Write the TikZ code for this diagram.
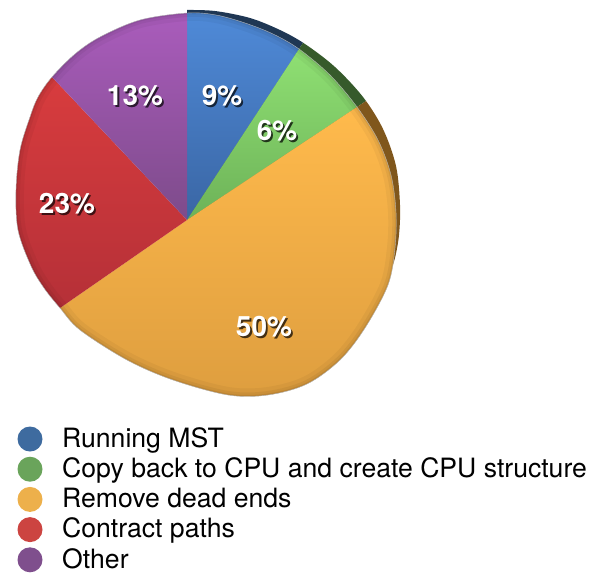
\documentclass[tikz,border=0pt]{standalone}
\usepackage{fontspec}
\setmainfont{TeX Gyre Heros}
% slice colours (top / bottom of the gradient) and the darker rim colours
\definecolor{blueT}{HTML}{4F8AD8}\definecolor{blueB}{HTML}{3A66A4}
\definecolor{greenT}{HTML}{8FE073}\definecolor{greenB}{HTML}{6DB258}
\definecolor{orangeT}{HTML}{FFBA4C}\definecolor{orangeB}{HTML}{DE9E3F}
\definecolor{redT}{HTML}{D83C3E}\definecolor{redB}{HTML}{B22F37}
\definecolor{purpleT}{HTML}{AA5CBC}\definecolor{purpleB}{HTML}{7D4B8A}
\definecolor{rimBlue}{HTML}{1F3754}
\definecolor{rimGreen}{HTML}{365A2B}
\definecolor{rimOrange}{HTML}{80571C}
% legend swatches
\definecolor{legBlue}{HTML}{3E6B9F}
\definecolor{legGreen}{HTML}{6AA45B}
\definecolor{legOrange}{HTML}{EDB04B}
\definecolor{legRed}{HTML}{CC4441}
\definecolor{legPurple}{HTML}{7F4F8D}
% white label with a dark drop shadow behind it
\newcommand{\shadowlabel}[2]{%
  \makebox[0pt][l]{\hspace{1.8pt}\raisebox{-2.2pt}{\color{#1}#2}}#2}
\begin{document}
\begin{tikzpicture}[x=1pt,y=-1pt,
  pct/.style={font=\fontsize{28}{28}\selectfont\bfseries, text=white, inner sep=0pt},
  legdot/.style={circle, minimum size=25pt, inner sep=0pt},
  legtext/.style={anchor=base west, inner sep=0pt, font=\fontsize{26.6}{30}\selectfont, text=black}]
\useasboundingbox (0,0) rectangle (591,573);

% outline of the pie's top face
\def\topsurf{plot[smooth cycle, tension=0.55] coordinates {
  (187,13) (216,15) (245,23) (273,34) (299,49) (330,75) (357,107) (378,140)
  (391,175) (396,212) (395,248) (388,285) (365,328) (340,360) (307,384)
  (268,395) (228,395) (173,380) (127,360) (80,330) (60,308) (44,288)
  (31,266) (18,230) (16,190) (20,150) (30,117) (38,97) (52,77) (75,54)
  (100,37) (140,20)}}
% sectors, all starting at the apex
\def\wblue{(187,220) -- (187,-194) -- (411,-122) -- cycle}
\def\wgreen{(187,220) -- (411,-122) -- (527,-6) -- cycle}
\def\worange{(187,220) -- (527,-6) -- (620,620) -- (-100,620) -- (-67,396) -- cycle}
\def\wred{(187,220) -- (-67,396) -- (-200,220) -- (-83,-66) -- cycle}
\def\wpurple{(187,220) -- (-83,-66) -- (187,-194) -- cycle}

\coordinate (apex) at (187,220);

% visible side wall along the upper right edge
\begin{scope}
  \clip (apex) -- (187,14) -- plot[smooth, tension=0.55] coordinates {
    (187,10) (215,11) (250,18) (280,30) (305,44) (335,67) (363,97)
    (383,129) (396,166) (400,205) (399,235) (395,258) (391,270)} -- cycle;
  \fill[rimBlue] \wblue;
  \fill[rimGreen] \wgreen;
  \fill[rimOrange] \worange;
\end{scope}

% top face of the pie
\begin{scope}
  \clip \topsurf;
  \begin{scope}\clip \wblue;
    \shade[top color=blueT, bottom color=blueB] (0,13) rectangle (591,220);\end{scope}
  \begin{scope}\clip \wgreen;
    \shade[top color=greenT, bottom color=greenB] (0,49) rectangle (591,220);\end{scope}
  \begin{scope}\clip \worange;
    \shade[top color=orangeT, bottom color=orangeB] (0,107) rectangle (591,396);\end{scope}
  \begin{scope}\clip \wred;
    \shade[top color=redT, bottom color=redB] (0,77) rectangle (591,330);\end{scope}
  \begin{scope}\clip \wpurple;
    \shade[top color=purpleT, bottom color=purpleB] (0,13) rectangle (591,220);\end{scope}
  % soft darkening towards the rim
  \draw[black, opacity=.04, line width=16pt] \topsurf;
  \draw[black, opacity=.05, line width=8pt] \topsurf;
  \draw[black, opacity=.07, line width=3pt] \topsurf;
\end{scope}
\draw[black!30, line width=.4pt] \topsurf;

% percentages
\node[pct] (p9)  at (222,97)  {\shadowlabel{blueB!35!black}{9\%}};
\node[pct] (p6)  at (277,132) {\shadowlabel{greenB!30!black}{6\%}};
\node[pct] (p13) at (135,97)  {\shadowlabel{purpleB!35!black}{13\%}};
\node[pct] (p23) at (67,205)  {\shadowlabel{redB!35!black}{23\%}};
\node[pct] (p50) at (264,328) {\shadowlabel{orangeB!30!black}{50\%}};

% legend
\foreach \i/\col/\txt in {0/legBlue/Running MST,
    1/legGreen/Copy back to CPU and create CPU structure,
    2/legOrange/Remove dead ends,
    3/legRed/Contract paths,
    4/legPurple/Other}{
  \node[legdot, fill=\col] (dot\i) at (30,439+30.2*\i) {};
  \node[legtext] (leg\i) at (62,447.3+30.2*\i) {\txt};
}
\end{tikzpicture}
\end{document}
